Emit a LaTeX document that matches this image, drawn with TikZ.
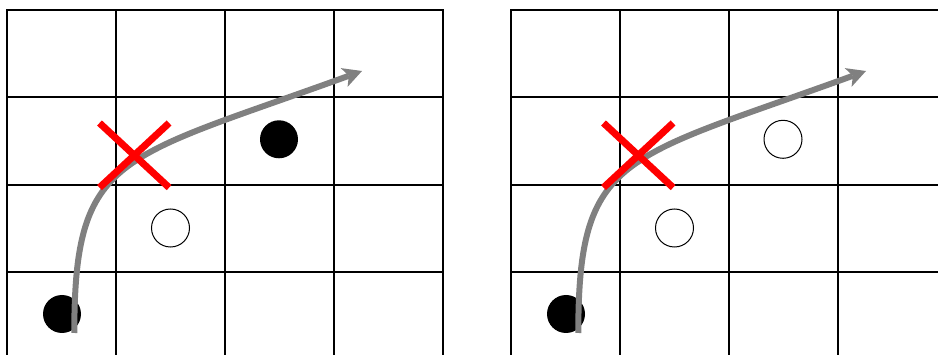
\documentclass[tikz,border=0pt]{standalone}
\usetikzlibrary{arrows.meta}
\tikzset{
  gridline/.style={line width=2pt, draw=black},
  blackdot/.style={circle, fill=black, minimum size=38pt, inner sep=0pt},
  whitedot/.style={circle, draw=black, line width=1pt, fill=white, minimum size=38pt, inner sep=0pt},
  pathline/.style={line width=6pt, draw={rgb,255:red,128;green,128;blue,128}, -{Stealth[length=19pt,width=20pt,inset=5pt,line width=0pt]}},
  crossline/.style={line width=7pt, draw=red},
}
\begin{document}
\begin{tikzpicture}[x=1pt,y=-1pt]
\useasboundingbox (0,0) rectangle (938,355);
\clip (0,0) rectangle (938,355);
\foreach \ox/\dotstyle/\nm in {0/blackdot/L, 504/whitedot/R} {
  \begin{scope}[xshift=\ox pt]
    % grid
    \draw[gridline] (7,10) rectangle (443,359.3);
    \foreach \x in {116,225,334} \draw[gridline] (\x,10) -- (\x,359.3);
    \foreach \y in {97.3,184.7,272} \draw[gridline] (7,\y) -- (443,\y);
    % dots
    \node[blackdot] (start\nm) at (62,314) {};
    \node[whitedot] (mid\nm) at (170.5,228) {};
    \node[\dotstyle] (goal\nm) at (279,139.3) {};
    % path
    \coordinate (from\nm) at (74.3,333);
    \coordinate (to\nm) at (362,71);
    \draw[pathline] (from\nm) .. controls (74.3,153) and (117.7,159.9) .. (to\nm);
    % cross
    \draw[crossline] (99.5,123) -- (169.1,187.6);
    \draw[crossline] (169.1,123) -- (99.5,187.6);
  \end{scope}
}
\end{tikzpicture}
\end{document}
